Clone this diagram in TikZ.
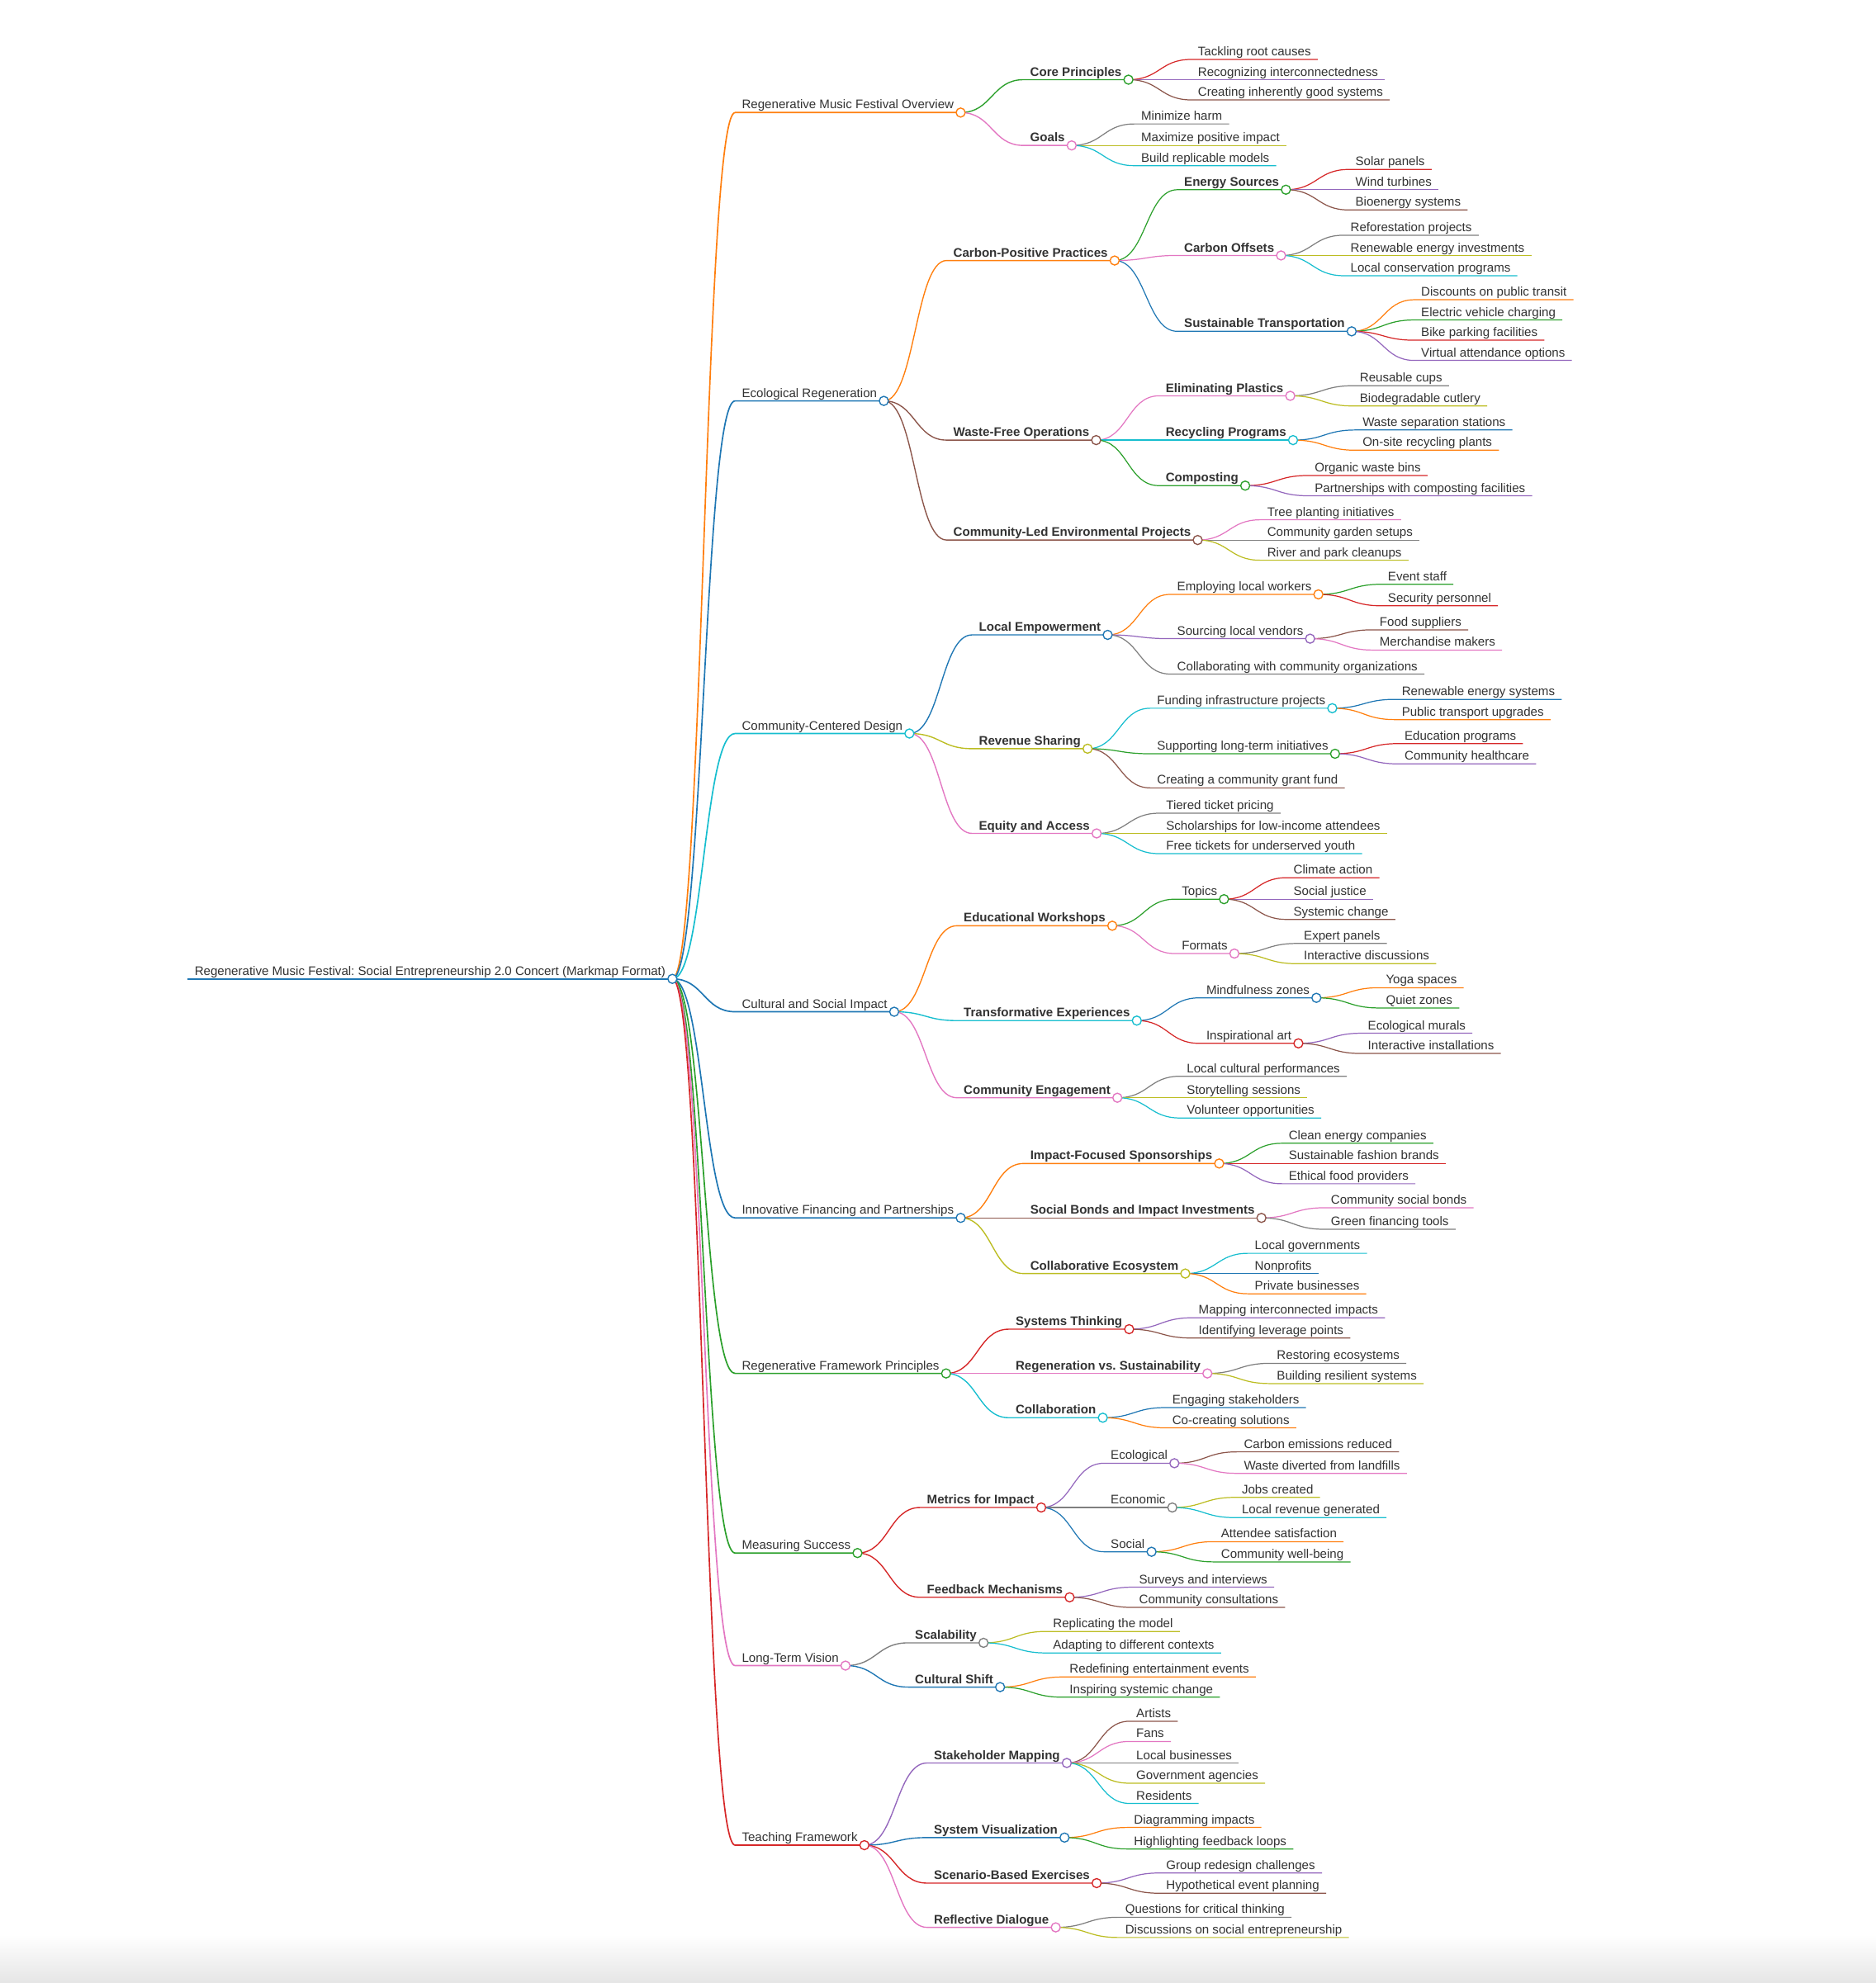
\documentclass[tikz,border=0pt]{standalone}
\usepackage{fontspec}
\setmainfont{Liberation Sans}
\frenchspacing
\definecolor{c0}{HTML}{1F77B4}
\definecolor{c1}{HTML}{FF7F0E}
\definecolor{c2}{HTML}{2CA02C}
\definecolor{c3}{HTML}{D62728}
\definecolor{c4}{HTML}{9467BD}
\definecolor{c5}{HTML}{8C564B}
\definecolor{c6}{HTML}{E377C2}
\definecolor{c7}{HTML}{7F7F7F}
\definecolor{c8}{HTML}{BCBD22}
\definecolor{c9}{HTML}{17BECF}
\definecolor{txt}{HTML}{333333}
\newcommand{\mmfont}{\fontsize{9.85}{12}\selectfont}
\tikzset{
  mmtext/.style={anchor=south west, inner xsep=5.2pt, inner ysep=0pt,
    text height=7.4pt, text depth=2.7pt, font=\mmfont, text=txt},
  hd/.style={font=\mmfont\bfseries},
  mmlink/.style={line width=0.8pt,
    to path={.. controls +(24.8,0) and +(-24.8,0) .. (\tikztotarget)}},
  lv1/.style={line width=1.1pt},
  lv2/.style={line width=0.9pt},
  knob/.style={fill=white, line width=0.9pt},
}
% child node: [style]{parent}{name}{underline y}{link colour}{text}
\newcommand{\mmkid}[6][]{%
  \node[mmtext,xshift=49.6pt,#1] (#3) at (#2.south east |- 0,#4) {#6};
  \draw[mmlink,#5] (#2.south east) to (#3.south west) -- (#3.south east);}
\begin{document}
\begin{tikzpicture}[x=1pt,y=-1pt]
\useasboundingbox (0,0) rectangle (1483,1568);
\fill[white] (0,0) rectangle (1483,1568);
\shade[top color=white,bottom color=black!10] (0,1530) rectangle (1483,1568);

\node[mmtext] (root) at (148.5,774) {Regenerative Music Festival: Social Entrepreneurship 2.0 Concert (Markmap Format)};
\draw[c0,line width=1.3pt] (root.south west) -- (root.south east);

% overview
\mmkid{root}{ov}{89}{c1,lv1}{Regenerative Music Festival Overview}
\mmkid[hd]{ov}{core}{63}{c2,lv2}{Core Principles}
\mmkid{core}{roots}{47}{c3}{Tackling root causes}
\mmkid{core}{inter}{63}{c4}{Recognizing interconnectedness}
\mmkid{core}{good}{79}{c5}{Creating inherently good systems}
\mmkid[hd]{ov}{goals}{115}{c6,lv2}{Goals}
\mmkid{goals}{harm}{98}{c7}{Minimize harm}
\mmkid{goals}{maxim}{115}{c8}{Maximize positive impact}
\mmkid{goals}{repl}{131}{c9}{Build replicable models}

% ecological
\mmkid{root}{eco}{317}{c0,lv1}{Ecological Regeneration}
\mmkid[hd]{eco}{carbon}{206}{c1,lv2}{Carbon-Positive Practices}
\mmkid[hd]{carbon}{energy}{150}{c2}{Energy Sources}
\mmkid{energy}{solar}{134}{c3}{Solar panels}
\mmkid{energy}{wind}{150}{c4}{Wind turbines}
\mmkid{energy}{bio}{166}{c5}{Bioenergy systems}
\mmkid[hd]{carbon}{offsets}{202}{c6}{Carbon Offsets}
\mmkid{offsets}{forest}{186}{c7}{Reforestation projects}
\mmkid{offsets}{reinv}{202}{c8}{Renewable energy investments}
\mmkid{offsets}{conserv}{218}{c9}{Local conservation programs}
\mmkid[hd]{carbon}{transp}{262}{c0}{Sustainable Transportation}
\mmkid{transp}{transit}{237}{c1}{Discounts on public transit}
\mmkid{transp}{evchg}{253}{c2}{Electric vehicle charging}
\mmkid{transp}{bike}{269}{c3}{Bike parking facilities}
\mmkid{transp}{virtual}{285}{c4}{Virtual attendance options}
\mmkid[hd]{eco}{wastefree}{348}{c5,lv2}{Waste-Free Operations}
\mmkid[hd]{wastefree}{plastic}{313}{c6}{Eliminating Plastics}
\mmkid{plastic}{cups}{305}{c7}{Reusable cups}
\mmkid{plastic}{cutlery}{321}{c8}{Biodegradable cutlery}
\mmkid[hd]{wastefree}{recyc}{348}{c9}{Recycling Programs}
\mmkid{recyc}{separ}{340}{c0}{Waste separation stations}
\mmkid{recyc}{onsite}{356}{c1}{On-site recycling plants}
\mmkid[hd]{wastefree}{compost}{384}{c2}{Composting}
\mmkid{compost}{bins}{376}{c3}{Organic waste bins}
\mmkid{compost}{cfacil}{392}{c4}{Partnerships with composting facilities}
\mmkid[hd]{eco}{envproj}{427}{c5,lv2}{Community-Led Environmental Projects}
\mmkid{envproj}{trees}{411}{c6}{Tree planting initiatives}
\mmkid{envproj}{garden}{427}{c7}{Community garden setups}
\mmkid{envproj}{river}{443}{c8}{River and park cleanups}

% community-centered
\mmkid{root}{ccd}{580}{c9,lv1}{Community-Centered Design}
\mmkid[hd]{ccd}{empower}{502}{c0,lv2}{Local Empowerment}
\mmkid{empower}{workers}{470}{c1}{Employing local workers}
\mmkid{workers}{staff}{462}{c2}{Event staff}
\mmkid{workers}{security}{479}{c3}{Security personnel}
\mmkid{empower}{vendors}{505}{c4}{Sourcing local vendors}
\mmkid{vendors}{food}{498}{c5}{Food suppliers}
\mmkid{vendors}{merch}{514}{c6}{Merchandise makers}
\mmkid{empower}{collabor}{533}{c7}{Collaborating with community organizations}
\mmkid[hd]{ccd}{revenue}{592}{c8,lv2}{Revenue Sharing}
\mmkid{revenue}{infra}{560}{c9}{Funding infrastructure projects}
\mmkid{infra}{renew}{553}{c0}{Renewable energy systems}
\mmkid{infra}{ptrans}{569}{c1}{Public transport upgrades}
\mmkid{revenue}{longterm}{596}{c2}{Supporting long-term initiatives}
\mmkid{longterm}{educ}{588}{c3}{Education programs}
\mmkid{longterm}{health}{604}{c4}{Community healthcare}
\mmkid{revenue}{grant}{623}{c5}{Creating a community grant fund}
\mmkid[hd]{ccd}{equity}{659}{c6,lv2}{Equity and Access}
\mmkid{equity}{tiered}{643}{c7}{Tiered ticket pricing}
\mmkid{equity}{scholar}{659}{c8}{Scholarships for low-income attendees}
\mmkid{equity}{free}{675}{c9}{Free tickets for underserved youth}

% cultural and social
\mmkid{root}{csi}{800}{c0,lv1}{Cultural and Social Impact}
\mmkid[hd]{csi}{workshops}{732}{c1,lv2}{Educational Workshops}
\mmkid{workshops}{topics}{711}{c2}{Topics}
\mmkid{topics}{climate}{694}{c3}{Climate action}
\mmkid{topics}{justice}{711}{c4}{Social justice}
\mmkid{topics}{sysch}{727}{c5}{Systemic change}
\mmkid{workshops}{formats}{754}{c6}{Formats}
\mmkid{formats}{panels}{746}{c7}{Expert panels}
\mmkid{formats}{discuss}{762}{c8}{Interactive discussions}
\mmkid[hd]{csi}{transf}{807}{c9,lv2}{Transformative Experiences}
\mmkid{transf}{mindful}{789}{c0}{Mindfulness zones}
\mmkid{mindful}{yoga}{781}{c1}{Yoga spaces}
\mmkid{mindful}{quiet}{797}{c2}{Quiet zones}
\mmkid{transf}{art}{825}{c3}{Inspirational art}
\mmkid{art}{murals}{817}{c4}{Ecological murals}
\mmkid{art}{install}{833}{c5}{Interactive installations}
\mmkid[hd]{csi}{engage}{868}{c6,lv2}{Community Engagement}
\mmkid{engage}{perform}{851}{c7}{Local cultural performances}
\mmkid{engage}{story}{868}{c8}{Storytelling sessions}
\mmkid{engage}{volunt}{884}{c9}{Volunteer opportunities}

% financing
\mmkid{root}{finance}{963}{c0,lv1}{Innovative Financing and Partnerships}
\mmkid[hd]{finance}{sponsor}{920}{c1,lv2}{Impact-Focused Sponsorships}
\mmkid{sponsor}{clean}{904}{c2}{Clean energy companies}
\mmkid{sponsor}{fashion}{920}{c3}{Sustainable fashion brands}
\mmkid{sponsor}{ethfood}{936}{c4}{Ethical food providers}
\mmkid[hd]{finance}{bonds}{963}{c5,lv2}{Social Bonds and Impact Investments}
\mmkid{bonds}{socbonds}{955}{c6}{Community social bonds}
\mmkid{bonds}{greenfin}{972}{c7}{Green financing tools}
\mmkid[hd]{finance}{ecosys}{1007}{c8,lv2}{Collaborative Ecosystem}
\mmkid{ecosys}{govts}{991}{c9}{Local governments}
\mmkid{ecosys}{nonprof}{1007}{c0}{Nonprofits}
\mmkid{ecosys}{private}{1023}{c1}{Private businesses}

% framework
\mmkid{root}{frame}{1086}{c2,lv1}{Regenerative Framework Principles}
\mmkid[hd]{frame}{systhink}{1051}{c3,lv2}{Systems Thinking}
\mmkid{systhink}{mapping}{1042}{c4}{Mapping interconnected impacts}
\mmkid{systhink}{leverage}{1058}{c5}{Identifying leverage points}
\mmkid[hd]{frame}{regen}{1086}{c6,lv2}{Regeneration vs. Sustainability}
\mmkid{regen}{restore}{1078}{c7}{Restoring ecosystems}
\mmkid{regen}{resil}{1094}{c8}{Building resilient systems}
\mmkid[hd]{frame}{collab}{1121}{c9,lv2}{Collaboration}
\mmkid{collab}{stake}{1113}{c0}{Engaging stakeholders}
\mmkid{collab}{cocreate}{1129}{c1}{Co-creating solutions}

% measuring
\mmkid{root}{measure}{1228}{c2,lv1}{Measuring Success}
\mmkid[hd]{measure}{metrics}{1192}{c3,lv2}{Metrics for Impact}
\mmkid{metrics}{mecol}{1157}{c4}{Ecological}
\mmkid{mecol}{emiss}{1148}{c5}{Carbon emissions reduced}
\mmkid{mecol}{landfill}{1165}{c6}{Waste diverted from landfills}
\mmkid{metrics}{mecon}{1192}{c7}{Economic}
\mmkid{mecon}{jobs}{1184}{c8}{Jobs created}
\mmkid{mecon}{locrev}{1200}{c9}{Local revenue generated}
\mmkid{metrics}{msoc}{1227}{c0}{Social}
\mmkid{msoc}{satisf}{1219}{c1}{Attendee satisfaction}
\mmkid{msoc}{wellb}{1235}{c2}{Community well-being}
\mmkid[hd]{measure}{feedback}{1263}{c3,lv2}{Feedback Mechanisms}
\mmkid{feedback}{surveys}{1255}{c4}{Surveys and interviews}
\mmkid{feedback}{consult}{1271}{c5}{Community consultations}

% long-term
\mmkid{root}{vision}{1317}{c6,lv1}{Long-Term Vision}
\mmkid[hd]{vision}{scal}{1299}{c7,lv2}{Scalability}
\mmkid{scal}{replic}{1290}{c8}{Replicating the model}
\mmkid{scal}{adapt}{1307}{c9}{Adapting to different contexts}
\mmkid[hd]{vision}{shift}{1334}{c0,lv2}{Cultural Shift}
\mmkid{shift}{redef}{1326}{c1}{Redefining entertainment events}
\mmkid{shift}{inspire}{1342}{c2}{Inspiring systemic change}

% teaching
\mmkid{root}{teach}{1459}{c3,lv1}{Teaching Framework}
\mmkid[hd]{teach}{smap}{1394}{c4,lv2}{Stakeholder Mapping}
\mmkid{smap}{artists}{1361}{c5}{Artists}
\mmkid{smap}{fans}{1377}{c6}{Fans}
\mmkid{smap}{locbus}{1394}{c7}{Local businesses}
\mmkid{smap}{govag}{1410}{c8}{Government agencies}
\mmkid{smap}{resid}{1426}{c9}{Residents}
\mmkid[hd]{teach}{sysvis}{1453}{c0,lv2}{System Visualization}
\mmkid{sysvis}{diagr}{1445}{c1}{Diagramming impacts}
\mmkid{sysvis}{loops}{1462}{c2}{Highlighting feedback loops}
\mmkid[hd]{teach}{scenario}{1489}{c3,lv2}{Scenario-Based Exercises}
\mmkid{scenario}{redesign}{1481}{c4}{Group redesign challenges}
\mmkid{scenario}{hypo}{1497}{c5}{Hypothetical event planning}
\mmkid[hd]{teach}{reflect}{1524}{c6,lv2}{Reflective Dialogue}
\mmkid{reflect}{quest}{1516}{c7}{Questions for critical thinking}
\mmkid{reflect}{socent}{1532}{c8}{Discussions on social entrepreneurship}

% open circles on every node that has children
\foreach \n/\c in {root/c0, ov/c1, core/c2, goals/c6, eco/c0, carbon/c1,
  energy/c2, offsets/c6, transp/c0, wastefree/c5, plastic/c6, recyc/c9,
  compost/c2, envproj/c5, ccd/c9, empower/c0, workers/c1, vendors/c4,
  revenue/c8, infra/c9, longterm/c2, equity/c6, csi/c0, workshops/c1,
  topics/c2, formats/c6, transf/c9, mindful/c0, art/c3, engage/c6,
  finance/c0, sponsor/c1, bonds/c5, ecosys/c8, frame/c2, systhink/c3,
  regen/c6, collab/c9, measure/c2, metrics/c3, mecol/c4, mecon/c7,
  msoc/c0, feedback/c3, vision/c6, scal/c7, shift/c0, teach/c3,
  smap/c4, sysvis/c0, scenario/c3, reflect/c6}
  \draw[knob,draw=\c] (\n.south east) circle (3.6);
\end{tikzpicture}
\end{document}
